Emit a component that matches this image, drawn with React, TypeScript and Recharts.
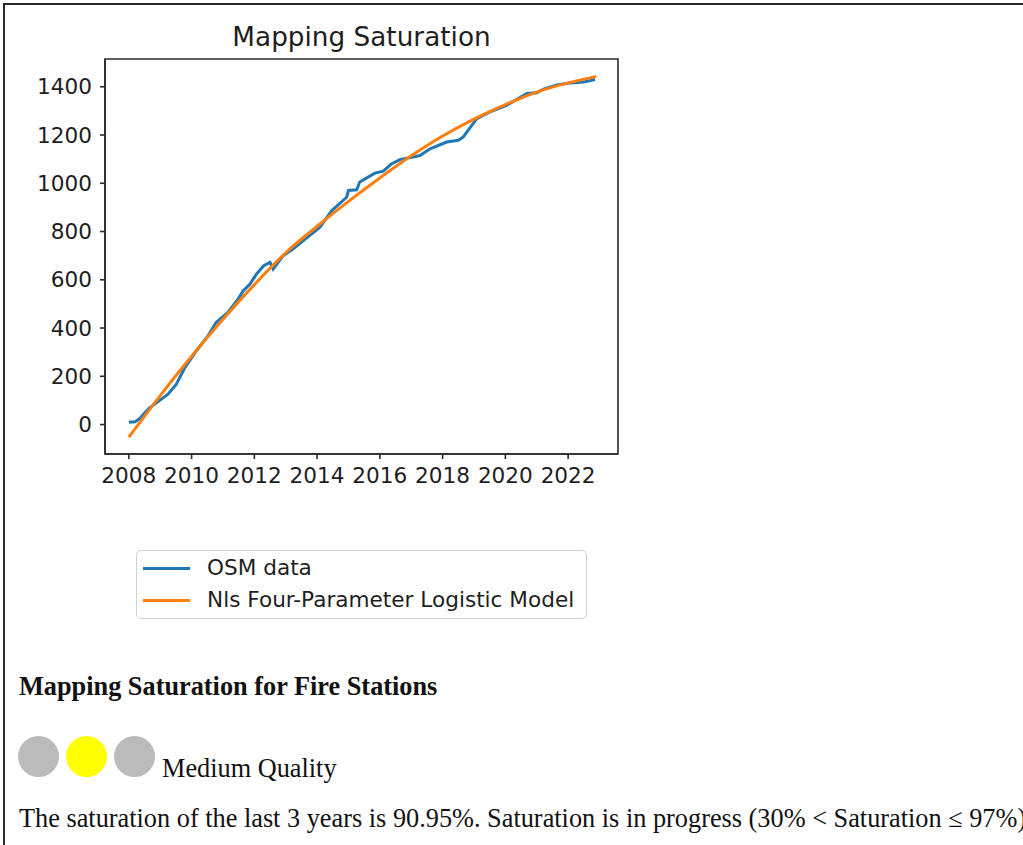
import React from "react";
import { LineChart, Line, XAxis, YAxis, ReferenceArea, Legend } from "recharts";

const osmYears = [
  2008.0, 2008.2, 2008.35, 2008.5, 2008.66, 2008.9, 2009.24, 2009.51, 2009.78, 2010.15,
  2010.52, 2010.78, 2011.15, 2011.48, 2011.64, 2011.86, 2012.07, 2012.3, 2012.5, 2012.6,
  2012.92, 2013.24, 2013.56, 2014.09, 2014.47, 2014.94, 2015.0, 2015.26, 2015.36, 2015.84,
  2016.11, 2016.38, 2016.64, 2017.28, 2017.6, 2018.13, 2018.5, 2018.66, 2018.93, 2019.09,
  2019.51, 2020.04, 2020.69, 2021.0, 2021.22, 2021.64, 2022.07, 2022.5, 2022.86,
];
const osmValues = [
  10, 12, 25, 48, 69, 92, 125, 166, 235, 305,
  367, 423, 464, 520, 554, 582, 624, 658, 672, 644,
  700, 728, 762, 818, 887, 942, 970, 973, 1005, 1042,
  1050, 1081, 1098, 1115, 1143, 1171, 1178, 1192, 1240, 1268,
  1296, 1323, 1372, 1375, 1390, 1407, 1416, 1420, 1430,
];

const modelYears = [
  2008, 2009, 2010, 2011, 2012, 2013, 2014, 2015, 2016, 2017, 2018, 2019, 2020, 2021, 2022, 2022.9,
];
const modelValues = [
  -52, 120, 283, 436, 580, 712, 822, 925, 1022, 1114, 1196, 1266, 1326, 1378, 1416, 1443,
];

const xTicks = [2008, 2010, 2012, 2014, 2016, 2018, 2020, 2022];
const yTicks = [0, 200, 400, 600, 800, 1000, 1200, 1400];
const xDomain: [number, number] = [2007.24, 2023.59];
const yDomain: [number, number] = [-122, 1515];

const seriesNames = ["OSM data", "Nls Four-Parameter Logistic Model"];
const seriesColors = ["#1f77b4", "#ff7f0e"];

const osmData = osmYears.map((x, i) => ({ x, y: osmValues[i] }));
const modelData = modelYears.map((x, i) => ({ x, y: modelValues[i] }));

const sans = "'DejaVu Sans', sans-serif";
const serif = "'Liberation Serif', 'Times New Roman', serif";
const tickStyle = { fontFamily: sans, fontSize: 21.6, fill: "#1e1e1e" };

const LegendBox = () => (
  <div
    style={{
      position: "relative",
      width: 451,
      height: 69,
      border: "1.5px solid #d2d2d2",
      borderRadius: 5,
      boxSizing: "border-box",
      background: "#fff",
      fontFamily: sans,
      fontSize: 21.6,
      color: "#1e1e1e",
    }}
  >
    {seriesNames.map((name, i) => (
      <React.Fragment key={name}>
        <div
          style={{
            position: "absolute",
            left: 6,
            top: 15.5 + i * 32.5,
            width: 47,
            height: 3,
            background: seriesColors[i],
          }}
        />
        <div
          style={{
            position: "absolute",
            left: 70,
            top: 5.5 + i * 32.5,
            lineHeight: 1,
            whiteSpace: "nowrap",
          }}
        >
          {name}
        </div>
      </React.Fragment>
    ))}
  </div>
);

export default function App() {
  return (
    <div
      style={{
        position: "fixed",
        left: 0,
        top: 0,
        width: 1023,
        height: 845,
        background: "#fff",
        overflow: "hidden",
      }}
    >
      <div
        style={{
          position: "absolute",
          left: 3,
          top: 3,
          width: 1020,
          height: 842,
          borderTop: "2px solid #2a2a2a",
          borderLeft: "2px solid #2a2a2a",
        }}
      />
      <div
        style={{
          position: "absolute",
          left: 161.5,
          width: 400,
          top: 24,
          textAlign: "center",
          fontFamily: sans,
          fontSize: 26.3,
          lineHeight: 1,
          color: "#1e1e1e",
        }}
      >
        Mapping Saturation
      </div>
      <div style={{ position: "absolute", left: 0, top: 0 }}>
        <LineChart
          width={640}
          height={640}
          margin={{ top: 59, right: 22, bottom: 77, left: 0 }}
        >
          <XAxis
            type="number"
            dataKey="x"
            domain={xDomain}
            ticks={xTicks}
            allowDataOverflow
            height={40}
            tickSize={5}
            tickMargin={9}
            stroke="#2a2a2a"
            strokeWidth={1.6}
            tick={tickStyle}
            interval={0}
          />
          <YAxis
            type="number"
            dataKey="y"
            domain={yDomain}
            ticks={yTicks}
            allowDataOverflow
            width={105}
            tickSize={5}
            tickMargin={8}
            stroke="#2a2a2a"
            strokeWidth={1.6}
            tick={tickStyle}
            interval={0}
          />
          <ReferenceArea
            x1={xDomain[0]}
            x2={xDomain[1]}
            y1={yDomain[0]}
            y2={yDomain[1]}
            fill="none"
            fillOpacity={0}
            stroke="#2a2a2a"
            strokeWidth={1.6}
            ifOverflow="visible"
          />
          <Line
            data={osmData}
            dataKey="y"
            name={seriesNames[0]}
            type="linear"
            stroke={seriesColors[0]}
            strokeWidth={3}
            dot={false}
            activeDot={false}
            isAnimationActive={false}
          />
          <Line
            data={modelData}
            dataKey="y"
            name={seriesNames[1]}
            type="monotone"
            stroke={seriesColors[1]}
            strokeWidth={3}
            dot={false}
            activeDot={false}
            isAnimationActive={false}
          />
          <Legend
            content={() => <LegendBox />}
            wrapperStyle={{ position: "absolute", left: 136, top: 550, width: 451, height: 69 }}
          />
        </LineChart>
      </div>
      <div
        style={{
          position: "absolute",
          left: 19,
          top: 673.5,
          fontFamily: serif,
          fontWeight: "bold",
          fontSize: 26.3,
          lineHeight: 1,
          color: "#111",
          whiteSpace: "nowrap",
        }}
      >
        Mapping Saturation for Fire Stations
      </div>
      {["#bbbbbb", "#ffff00", "#bbbbbb"].map((c, i) => (
        <div
          key={i}
          style={{
            position: "absolute",
            left: 18.3 + i * 48,
            top: 736,
            width: 41,
            height: 41,
            borderRadius: "50%",
            background: c,
          }}
        />
      ))}
      <div
        style={{
          position: "absolute",
          left: 162,
          top: 756,
          fontFamily: serif,
          fontSize: 26.3,
          lineHeight: 1,
          color: "#111",
          whiteSpace: "nowrap",
        }}
      >
        Medium Quality
      </div>
      <div
        style={{
          position: "absolute",
          left: 19,
          top: 806,
          fontFamily: serif,
          fontSize: 26.3,
          lineHeight: 1,
          color: "#111",
          whiteSpace: "nowrap",
        }}
      >
        The saturation of the last 3 years is 90.95%. Saturation is in progress (30% &lt; Saturation ≤ 97%)
      </div>
    </div>
  );
}
